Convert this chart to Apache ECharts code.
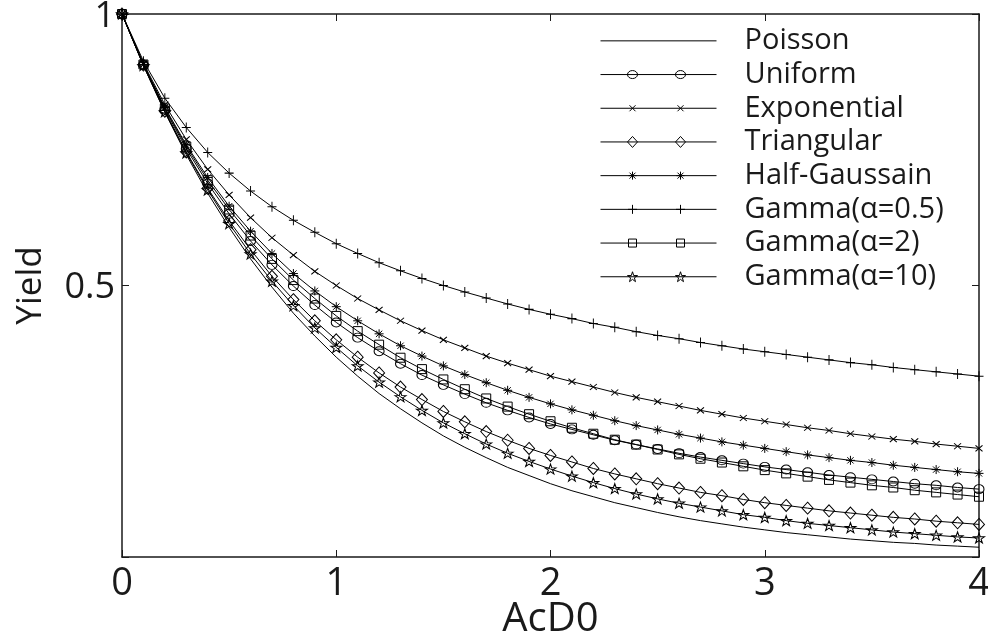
<!DOCTYPE html>
<html>
<head>
<meta charset="utf-8">
<style>
  html, body { margin: 0; padding: 0; background: #fff; }
  #chart { width: 988px; height: 636px; }
</style>
<script src="https://cdn.jsdelivr.net/npm/echarts@6/dist/echarts.min.js"></script>
</head>
<body>
<div id="chart"></div>
<script>
// AcD0 sample points
const acd0 = [0, 0.1, 0.2, 0.3, 0.4, 0.5, 0.6, 0.7, 0.8, 0.9, 1.0, 1.1, 1.2, 1.3, 1.4, 1.5, 1.6, 1.7, 1.8, 1.9, 2.0,
  2.1, 2.2, 2.3, 2.4, 2.5, 2.6, 2.7, 2.8, 2.9, 3.0, 3.1, 3.2, 3.3, 3.4, 3.5, 3.6, 3.7, 3.8, 3.9, 4.0];

// yield values per model
const poisson = [1, .905, .819, .741, .670, .607, .549, .497, .449, .407, .368, .333, .301, .273, .247, .223, .202, .183, .165, .150, .135,
  .122, .111, .100, .091, .082, .074, .067, .061, .055, .050, .045, .041, .037, .033, .030, .027, .025, .022, .020, .018];
const uniform = [1, .906, .824, .752, .688, .632, .582, .538, .499, .464, .432, .404, .379, .356, .335, .317, .300, .284, .270, .257, .245,
  .235, .225, .215, .207, .199, .191, .184, .178, .172, .166, .161, .156, .151, .147, .143, .139, .135, .132, .128, .125];
const exponential = [1, .909, .833, .769, .714, .667, .625, .588, .556, .526, .500, .476, .455, .435, .417, .400, .385, .370, .357, .345, .333,
  .323, .313, .303, .294, .286, .278, .270, .263, .256, .250, .244, .238, .233, .227, .222, .217, .213, .208, .204, .200];
const triangular = [1, .906, .821, .746, .679, .619, .566, .517, .474, .435, .400, .368, .339, .313, .290, .268, .249, .231, .215, .200, .187,
  .175, .163, .153, .144, .135, .127, .119, .113, .106, .100, .095, .090, .085, .081, .077, .073, .070, .066, .063, .060];
const halfGauss = [1, .907, .828, .759, .699, .646, .600, .559, .522, .490, .461, .435, .411, .389, .370, .352, .336, .321, .307, .294, .282,
  .271, .261, .251, .242, .234, .226, .219, .212, .206, .200, .194, .188, .183, .178, .174, .169, .165, .161, .157, .154];
const gamma05 = [1, .913, .845, .791, .745, .707, .674, .645, .620, .598, .577, .559, .542, .527, .513, .500, .488, .477, .466, .456, .447,
  .439, .430, .423, .415, .408, .402, .395, .389, .383, .378, .373, .368, .363, .358, .354, .349, .345, .341, .337, .333];
const gamma2 = [1, .907, .826, .756, .694, .640, .592, .549, .510, .476, .444, .416, .391, .367, .346, .327, .309, .292, .277, .263, .250,
  .238, .227, .216, .207, .198, .189, .181, .174, .167, .160, .154, .148, .142, .137, .132, .128, .123, .119, .115, .111];
const gamma10 = [1, .905, .820, .744, .676, .614, .558, .508, .463, .422, .386, .352, .322, .295, .270, .247, .227, .208, .191, .176, .162,
  .149, .137, .126, .116, .107, .099, .092, .085, .078, .073, .067, .062, .058, .054, .050, .046, .043, .040, .037, .035];

const names = ['Poisson', 'Uniform', 'Exponential', 'Triangular', 'Half-Gaussain',
  'Gamma(\u03b1=0.5)', 'Gamma(\u03b1=2)', 'Gamma(\u03b1=10)'];
const values = [poisson, uniform, exponential, triangular, halfGauss, gamma05, gamma2, gamma10];

const FONT = '"Open Sans", "Noto Sans", sans-serif';
const INK = '#1a1a1a';

// plot markers (matlab style, unfilled)
const markers = [
  { symbol: 'none' },
  { symbol: 'circle', size: [10, 9] },
  { symbol: 'path://M0,0L10,10M10,0L0,10', size: [7, 6] },
  { symbol: 'diamond', size: [11, 12] },
  { symbol: 'path://M5,0L5,10M0,5L10,5M1.5,1.5L8.5,8.5M8.5,1.5L1.5,8.5', size: [9, 9] },
  { symbol: 'path://M5,0L5,10M0,5L10,5', size: [9, 10] },
  { symbol: 'rect', size: [9, 9] },
  { symbol: 'path://M10,0L12.245,6.91L19.511,6.91L13.633,11.18L15.878,18.09L10,13.82L4.122,18.09L6.367,11.18L0.489,6.91L7.755,6.91Z', size: [11, 10] }
];

// legend icons: line with two markers, 116 x 12
const legendMark = [
  c => '',
  c => `M${c - 5},6A5,4 0 1 0 ${c + 5},6A5,4 0 1 0 ${c - 5},6Z`,
  c => `M${c - 3},3L${c + 3},9M${c + 3},3L${c - 3},9`,
  c => `M${c},0.5L${c + 5},6L${c},11.5L${c - 5},6Z`,
  c => `M${c},2L${c},10M${c - 4},6L${c + 4},6M${c - 3},3L${c + 3},9M${c + 3},3L${c - 3},9`,
  c => `M${c},1.5L${c},10.5M${c - 4.5},6L${c + 4.5},6`,
  c => `M${c - 4},2L${c + 4},2L${c + 4},10L${c - 4},10Z`,
  c => `M${c},1L${c + 1.2},4.8L${c + 5},4.8L${c + 1.9},7.1L${c + 3},10.9L${c},8.6L${c - 3},10.9L${c - 1.9},7.1L${c - 5},4.8L${c - 1.2},4.8Z`
];
const legendIcon = f => 'path://M0,0L0,0M0,12L0,12M0,6L116,6' + f(32) + f(80);

const series = names.map((name, i) => ({
  type: 'line',
  name: name,
  data: acd0.map((x, j) => [x, values[i][j]]),
  symbol: markers[i].symbol,
  symbolSize: markers[i].size,
  showSymbol: markers[i].symbol !== 'none',
  lineStyle: { color: '#000', width: 1 },
  itemStyle: { color: 'transparent', borderColor: '#000', borderWidth: 1 },
  emphasis: { disabled: true },
  silent: true
}));

const baseAxis = {
  axisLine: { onZero: false, lineStyle: { color: INK, width: 1.5 } },
  axisTick: { inside: true, length: 7, lineStyle: { color: INK, width: 1 } },
  splitLine: { show: false }
};

const chart = echarts.init(document.getElementById('chart'));
chart.setOption({
  animation: false,
  backgroundColor: '#fff',
  grid: { left: 122, right: 9, top: 14, bottom: 79, containLabel: false, outerBoundsMode: 'none' },
  legend: {
    orient: 'vertical',
    left: 600,
    top: 24,
    padding: 0,
    itemGap: 0,
    itemWidth: 116,
    itemHeight: 12,
    selectedMode: false,
    itemStyle: { color: 'transparent', borderColor: '#000', borderWidth: 1 },
    textStyle: { fontFamily: FONT, fontSize: 29, color: INK, lineHeight: 33.7, padding: [0, 0, 0, 23] },
    data: names.map((n, i) => ({ name: n, icon: legendIcon(legendMark[i]) }))
  },
  xAxis: [
    Object.assign({}, baseAxis, {
      type: 'value', position: 'bottom', min: 0, max: 4, interval: 1,
      axisLabel: { fontFamily: FONT, fontSize: 38, color: INK, margin: 8 },
      name: 'AcD0', nameLocation: 'middle', nameGap: 43, nameMoveOverlap: false,
      nameTextStyle: { fontFamily: FONT, fontSize: 40, color: INK }
    }),
    Object.assign({}, baseAxis, {
      type: 'value', position: 'top', min: 0, max: 4, interval: 1,
      axisLabel: { show: false }
    })
  ],
  yAxis: [
    Object.assign({}, baseAxis, {
      type: 'value', position: 'left', min: 0, max: 1, interval: 0.5,
      axisLabel: {
        fontFamily: FONT, fontSize: 36, color: INK, margin: 7,
        formatter: v => (v === 0 ? '' : '{n|' + v + '}'),
        rich: { n: { fontFamily: FONT, fontSize: 36, color: INK, padding: [5, 0, 0, 0] } }
      },
      name: 'Yield', nameLocation: 'middle', nameGap: 73, nameRotate: 90, nameMoveOverlap: false,
      nameTextStyle: { fontFamily: FONT, fontSize: 35, color: INK }
    }),
    Object.assign({}, baseAxis, {
      type: 'value', position: 'right', min: 0, max: 1, interval: 0.5,
      axisLabel: { show: false }
    })
  ],
  series: series
});
</script>
</body>
</html>
